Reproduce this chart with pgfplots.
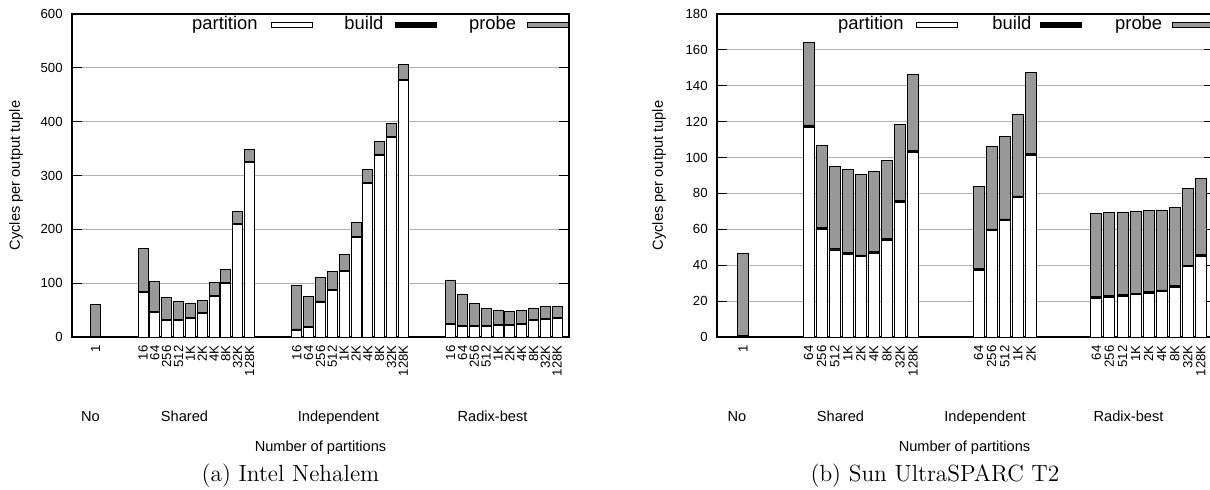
\documentclass[border=0pt]{standalone}
\usepackage{fontspec}
\usepackage{pgfplots}
\usepackage{pgfplotstable}
\pgfplotsset{compat=1.18}
\newfontfamily\lib{Liberation Sans}
\definecolor{probegray}{RGB}{153,153,153}
\definecolor{gridgray}{RGB}{178,178,178}

% Intel Nehalem: cycles per output tuple
\pgfplotstableread{
x  label part build probe
0  1     0    1     59
4  16    82   2     81
5  64    45   2     57
6  256   31   2     40
7  512   31   2     33
8  1K    35   2     25
9  2K    43   2     23
10 4K    76   2     23
11 8K    100  2     23
12 32K   209  2     22
13 128K  324  2     22
17 16    13   2     80
18 64    17   2     57
19 256   65   2     43
20 512   86   2     33
21 1K    122  2     29
22 2K    185  2     25
23 4K    285  2     24
24 8K    338  2     24
25 32K   370  2     25
26 128K  476  2     28
30 16    23   2     81
31 64    20   2     58
32 256   19   2     41
33 512   20   2     32
34 1K    21   2     26
35 2K    22   2     23
36 4K    24   2     23
37 8K    31   2     21
38 32K   33   2     21
39 128K  34   2     20
}\nehalem

% Sun UltraSPARC T2
\pgfplotstableread{
x  label part  build probe
0  1     0     1     45.5
5  64    117   1.2   46
6  256   60    1     45.8
7  512   48.5  1     45.6
8  1K    46    1     46.5
9  2K    44.7  1     45
10 4K    46.5  1     44.9
11 8K    54    1     43.5
12 32K   75    1     42.5
13 128K  103   1     42.4
18 64    37    1     45.8
19 256   59.2  1     46.1
20 512   64.8  1     46.1
21 1K    77.6  1     45.5
22 2K    101.2 1     45
27 64    21.7  1     46.2
28 256   22.2  1     46.3
29 512   22.8  1     45.9
30 1K    23.5  1     45.7
31 2K    24.5  1     45.1
32 4K    25.2  1     44.4
33 8K    27.6  1     43.7
34 32K   39.1  1     42.8
35 128K  45.1  1     42.4
}\sparc

\pgfplotsset{
  hashbars/.style={
    scale only axis, width=248.5pt, height=161.5pt, anchor=south west,
    ybar stacked, bar width=0.84,
    ymin=0, enlargelimits=false,
    xtick=data, xtick style={draw=none},
    ymajorgrids, grid style={gridgray, line width=0.5pt},
    major tick length=5pt, tick align=inside,
    tick style={black, line width=0.5pt},
    axis line style={line width=0.8pt},
    /pgf/number format/assume math mode=true,
    ticklabel style={font=\fontsize{6.6}{7}\selectfont\lib},
    xticklabel style={rotate=90, anchor=east, inner sep=0pt},
    xticklabel shift=4pt,
    yticklabel style={inner sep=0pt},
    yticklabel shift=4.5pt,
    legend columns=3, legend plot pos=right,
    legend image code/.code={\draw[##1] (0pt,-1.4pt) rectangle (20.5pt,1.4pt);},
    legend style={at={(rel axis cs:1,1)}, anchor=north east, yshift=-1.3pt,
      draw=none, fill=none, inner sep=0pt, outer sep=0pt,
      column sep=0pt,
      nodes={inner sep=0pt, font=\fontsize{9.2}{10}\selectfont\lib}},
  },
}

\begin{document}
\begin{tikzpicture}
\path[use as bounding box] (0,0) rectangle (605pt,244.5pt);

\begin{axis}[hashbars, at={(36pt,76pt)},
    xmin=-2, xmax=40, ymax=600, ytick distance=100,
    xticklabels from table={\nehalem}{label}]
  \addplot[fill=white, draw=black, line width=0.4pt] table[x=x, y=part] {\nehalem};
  \addlegendentry{partition\hspace*{6.5pt}}
  \addplot[fill=black, draw=black, line width=0.4pt] table[x=x, y=build] {\nehalem};
  \addlegendentry{\hspace*{16pt}build\hspace*{6pt}}
  \addplot[fill=probegray, draw=black, line width=0.4pt] table[x=x, y=probe] {\nehalem};
  \addlegendentry{\hspace*{16pt}probe\hspace*{5.5pt}}
\end{axis}

\begin{axis}[hashbars, at={(358.5pt,76pt)},
    xmin=-2, xmax=36, ymax=180, ytick distance=20,
    xticklabels from table={\sparc}{label}]
  \addplot[fill=white, draw=black, line width=0.4pt] table[x=x, y=part] {\sparc};
  \addlegendentry{partition\hspace*{6pt}}
  \addplot[fill=black, draw=black, line width=0.4pt] table[x=x, y=build] {\sparc};
  \addlegendentry{\hspace*{17.5pt}build\hspace*{4.5pt}}
  \addplot[fill=probegray, draw=black, line width=0.4pt] table[x=x, y=probe] {\sparc};
  \addlegendentry{\hspace*{16.5pt}probe\hspace*{5pt}}
\end{axis}

\begin{scope}[every node/.style={font=\fontsize{7.3}{8}\selectfont\lib}]
  \node[rotate=90] at (8pt,156.75pt) {Cycles per output tuple};
  \node[anchor=base] at (45.25pt,33.6pt) {No};
  \node[anchor=base] at (92.25pt,33.6pt) {Shared};
  \node[anchor=base] at (169.25pt,33.6pt) {Independent};
  \node[anchor=base] at (246.25pt,33.6pt) {Radix-best};
  \node[anchor=base] at (160.25pt,18.65pt) {Number of partitions};

  \node[rotate=90] at (329.5pt,156.75pt) {Cycles per output tuple};
  \node[anchor=base] at (368.5pt,33.6pt) {No};
  \node[anchor=base] at (420.25pt,33.6pt) {Shared};
  \node[anchor=base] at (492.5pt,33.6pt) {Independent};
  \node[anchor=base] at (564.25pt,33.6pt) {Radix-best};
  \node[anchor=base] at (482.25pt,18.65pt) {Number of partitions};
\end{scope}

\node[anchor=base, font=\fontsize{11.7}{14}\selectfont] at (145.25pt,3.65pt) {(a) Intel Nehalem};
\node[anchor=base, font=\fontsize{11.7}{14}\selectfont] at (467.5pt,3.65pt) {(b) Sun UltraSPARC T2};
\end{tikzpicture}
\end{document}
